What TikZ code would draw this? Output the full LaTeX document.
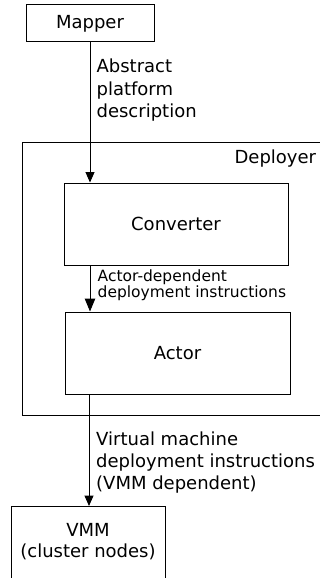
\documentclass[tikz,border=0pt]{standalone}
\usepackage{fontspec}
\setmainfont{DejaVu Sans}
\usetikzlibrary{arrows.meta}
\begin{document}
\begin{tikzpicture}[x=1pt,y=-1pt,
  box/.style={draw, line width=1pt, inner sep=0pt, font=\fontsize{18}{22}\selectfont},
  frame/.style={inner sep=0pt, outer sep=0pt},
  edgeline/.style={line width=1pt},
  lbl/.style={inner sep=0pt, align=left, anchor=north west, font=\fontsize{18}{22.3}\selectfont},
  slbl/.style={inner sep=0pt, align=left, anchor=north west, font=\fontsize{15.5}{14.6}\selectfont},
  flow/.style={line width=1pt, -{Triangle[length=10.5pt,width=9pt]}},
  bigflow/.style={line width=1pt, -{Triangle[length=13pt,width=10.5pt]}}]
\useasboundingbox[fill=white] (0,0) rectangle (320,578);

% boxes
\node[box, minimum width=128pt, minimum height=37pt] (mapper) at (90,23.5) {Mapper};
\node[frame, minimum width=298pt, minimum height=272.3pt, anchor=north west] (deployer) at (22,142.7) {};
\draw[edgeline] (deployer.north east) -- (deployer.north west) -- (deployer.south west) -- (deployer.south east);
\node[anchor=base east, inner sep=0pt, font=\fontsize{18}{22}\selectfont] (deplabel) at (316.3,163.8) {Deployer};
\node[box, minimum width=224pt, minimum height=82pt] (converter) at (176,224) {Converter};
\node[box, minimum width=225pt, minimum height=82pt] (actor) at (177.5,353) {Actor};
\node[frame, minimum width=154pt, minimum height=72pt, anchor=north west] (vmm) at (11,506) {};
\draw[edgeline] (vmm.south west) -- (vmm.north west) -- (vmm.north east) -- (vmm.south east);
\node[inner sep=0pt, align=center, anchor=north, font=\fontsize{18}{21}\selectfont] (vmmtext) at (88,523.6) {VMM\\(cluster nodes)};

% connectors
\draw[flow] (mapper.south) -- (mapper.south |- converter.north);
\draw[bigflow] (mapper.south |- converter.south) -- (mapper.south |- actor.north);
\draw[flow] ([xshift=-1pt]mapper.south |- actor.south) -- ([xshift=-1pt]mapper.south |- vmm.north);

% labels
\node[lbl] (lab1) at (96.4,59) {Abstract\\platform\\description};
\node[slbl] (lab2) at (97.5,269.9) {Actor-dependent\\deployment instructions};
\node[lbl] (lab3) at (96,431.3) {Virtual machine\\deployment instructions\\(VMM dependent)};
\end{tikzpicture}
\end{document}
